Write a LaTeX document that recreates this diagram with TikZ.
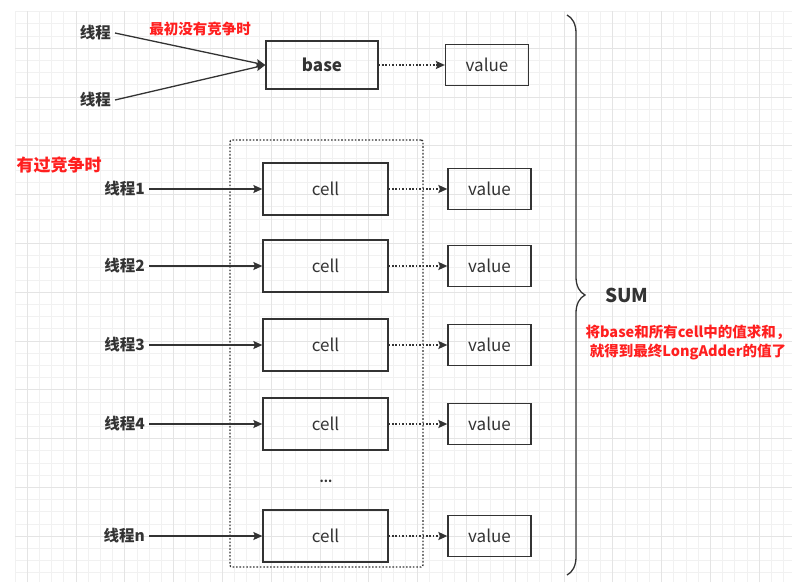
\documentclass[tikz,border=0pt]{standalone}
\usepackage{fontspec}
\setmainfont{Noto Sans CJK SC}
\usetikzlibrary{positioning,arrows.meta,decorations.pathreplacing}
\definecolor{inkgray}{HTML}{333333}
\definecolor{notered}{HTML}{FF1F1F}
\definecolor{gridminor}{HTML}{F1F1F1}
\definecolor{gridmajor}{HTML}{E4E4E4}
\tikzset{
  flowarrow/.style={-{Stealth[length=9pt,width=8pt,inset=1.5pt]}, line width=1.3pt, draw=inkgray},
  dotarrow/.style={-{Stealth[length=9pt,width=8pt,inset=1.5pt]}, line width=1.5pt, dash pattern=on 1.6pt off 1.8pt, draw=inkgray},
  cellbox/.style={draw=inkgray, line width=1.3pt, minimum width=125pt, minimum height=52pt, text=inkgray, font=\fontsize{17}{20}\selectfont},
  basebox/.style={cellbox, minimum width=112pt, minimum height=48pt, font=\bfseries\fontsize{17}{20}\selectfont},
  valuebox/.style={draw=inkgray, line width=1.3pt, minimum width=83pt, minimum height=41pt, text=inkgray, font=\fontsize{17}{20}\selectfont},
  poolbox/.style={draw=inkgray, line width=1.4pt, dash pattern=on 1.6pt off 1.8pt, rounded corners=2pt, inner sep=0pt, minimum width=193pt, minimum height=427pt},
  thread/.style={anchor=east, inner sep=4pt, text=inkgray, font=\bfseries\fontsize{15.5}{18}\selectfont},
  redlabel/.style={text=notered, align=center, font=\bfseries\fontsize{14.5}{19}\selectfont}
}
\begin{document}
\begin{tikzpicture}[x=1pt, y=-1pt]
  \useasboundingbox (0,0) rectangle (792,582);
  \begin{scope}[shift={(27,48)}]
    \draw[gridminor, line width=0.6pt, step=12.2pt] (-12.2,-36.6) grid (765,534);
    \draw[gridmajor, line width=0.6pt, step=48.8pt] (-12.2,-36.6) grid (765,534);
  \end{scope}

  \node[basebox] (base) at (322,65) {base};
  \node[valuebox] (bval) at (487,65) {value};
  \node[thread] (tha) at (115,33) {线程};
  \node[thread] (thb) at (115,100) {线程};
  \node[redlabel] (first) at (200,29) {最初没有竞争时};
  \draw[flowarrow] (tha.east) -- (base.west);
  \draw[flowarrow] (thb.east) -- (base.west);
  \draw[dotarrow] (base) -- (bval);

  \node[poolbox] (pool) at (326.5,353.5) {};
  \node[redlabel, font=\bfseries\fontsize{17}{20}\selectfont] (later) at (59,165) {有过竞争时};

  \node[cellbox] (c1) at (325.5,189) {cell};
  \node[cellbox] (c2) at (325.5,266) {cell};
  \node[cellbox] (c3) at (325.5,345) {cell};
  \node[cellbox] (c4) at (325.5,424) {cell};
  \node[text=inkgray, font=\bfseries\fontsize{12}{14}\selectfont] (more) at (326,481) {...};
  \node[cellbox] (cn) at (325.5,536) {cell};

  \node[valuebox] (v1) at (489.5,189) {value};
  \node[valuebox] (v2) at (489.5,266) {value};
  \node[valuebox] (v3) at (489.5,345) {value};
  \node[valuebox] (v4) at (489.5,424) {value};
  \node[valuebox] (vn) at (489.5,536) {value};

  \node[thread] (t1) at (149,189) {线程1};
  \node[thread] (t2) at (149,266) {线程2};
  \node[thread] (t3) at (149,345) {线程3};
  \node[thread] (t4) at (149,424) {线程4};
  \node[thread] (tn) at (149,536) {线程n};

  \draw[flowarrow] (t1) -- (c1);
  \draw[flowarrow] (t2) -- (c2);
  \draw[flowarrow] (t3) -- (c3);
  \draw[flowarrow] (t4) -- (c4);
  \draw[flowarrow] (tn) -- (cn);
  \draw[dotarrow] (c1) -- (v1);
  \draw[dotarrow] (c2) -- (v2);
  \draw[dotarrow] (c3) -- (v3);
  \draw[dotarrow] (c4) -- (v4);
  \draw[dotarrow] (cn) -- (vn);

  \coordinate (bracetop) at (567,15);
  \coordinate (bracebot) at (567,575);
  \draw[inkgray, line width=1.3pt, decorate, decoration={brace, amplitude=18pt}] (bracetop) -- (bracebot);
  \node[text=inkgray, font=\bfseries\fontsize{19}{22}\selectfont] (sum) at (627,295) {SUM};
  \node[redlabel] (note) at (688,342) {将base和所有cell中的值求和，\\就得到最终LongAdder的值了};
\end{tikzpicture}
\end{document}
